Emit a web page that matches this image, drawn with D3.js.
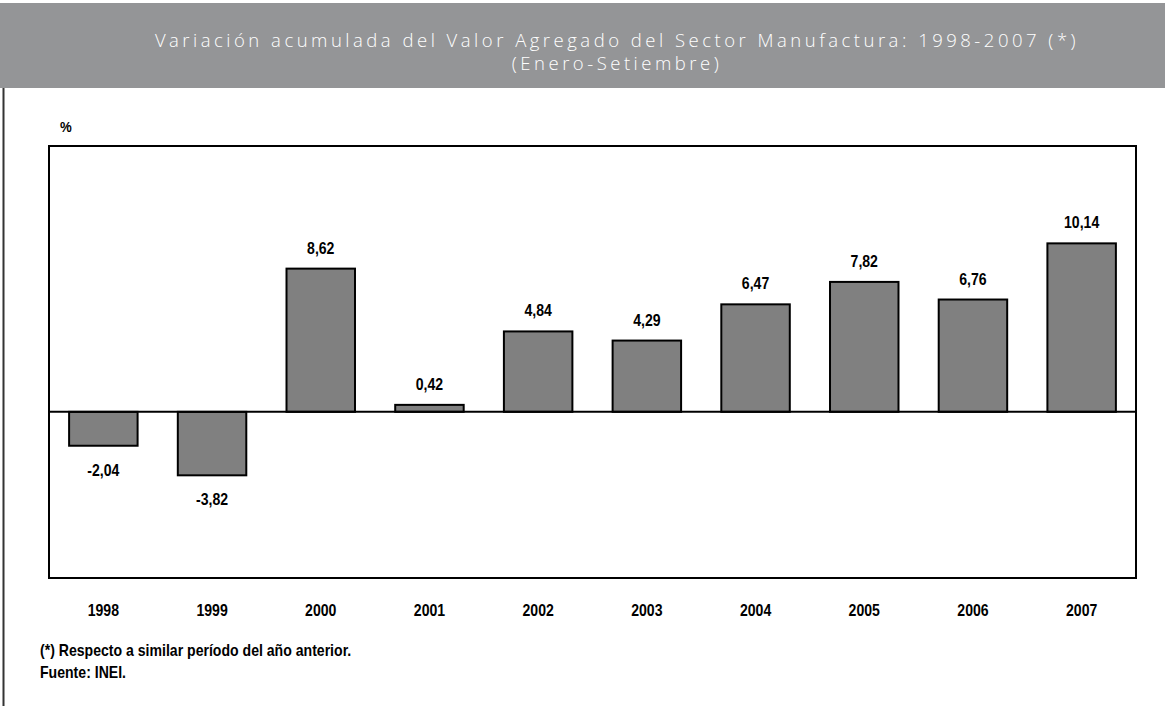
<!DOCTYPE html>
<html>
<head>
<meta charset="utf-8">
<script src="https://cdn.jsdelivr.net/npm/d3@7"></script>
<style>
body { margin: 0; background: #fff; }
svg { display: block; }
.narrow { font-family: "Liberation Sans", Arial, sans-serif; font-weight: bold; font-size: 16px; }
</style>
</head>
<body>
<div id="chart"></div>
<script>
var years = ["1998", "1999", "2000", "2001", "2002", "2003", "2004", "2005", "2006", "2007"];
var values = [-2.04, -3.82, 8.62, 0.42, 4.84, 4.29, 6.47, 7.82, 6.76, 10.14];
var titleLines = ["Variación acumulada del Valor Agregado del Sector Manufactura: 1998-2007 (*)", "(Enero-Setiembre)"];
var notes = ["(*) Respecto a similar período del año anterior.", "Fuente: INEI."];

var width = 1165, height = 711;
var plot = { left: 49, top: 146, right: 1136, bottom: 578 };
var squeeze = 0.88; // narrow look of the original font

function place(x, y) {
    return "translate(" + x + "," + y + ") scale(" + squeeze + ",1)";
}

function fmt(d) {
    return d.toFixed(2).replace(".", ",");
}

var svg = d3.select("#chart").append("svg")
    .attr("width", width)
    .attr("height", height);

// header band
svg.append("rect")
    .attr("x", 0).attr("y", 3)
    .attr("width", width).attr("height", 85)
    .attr("fill", "#949597");

svg.selectAll(".title")
    .data(titleLines)
    .enter().append("text")
    .attr("class", "title")
    .attr("x", 617)
    .attr("y", function(d, i) { return 47 + i * 23; })
    .attr("text-anchor", "middle")
    .attr("fill", "#fff")
    .style("font-family", "'Open Sans', sans-serif")
    .style("font-size", "18.5px")
    .style("font-weight", "300")
    .style("letter-spacing", "3.5px")
    .text(function(d) { return d; });

// left border line
svg.append("line")
    .attr("x1", 3.5).attr("x2", 3.5)
    .attr("y1", 88).attr("y2", 706)
    .attr("stroke", "#333").attr("stroke-width", 2);

var x = d3.scaleBand()
    .domain(years)
    .range([plot.left, plot.right])
    .paddingInner(0.37)
    .paddingOuter(0.185);

var y = d3.scaleLinear()
    .domain([-10, 16])
    .range([plot.bottom, plot.top]);

// bars
svg.selectAll(".bar")
    .data(values)
    .enter().append("rect")
    .attr("class", "bar")
    .attr("x", function(d, i) { return x(years[i]); })
    .attr("y", function(d) { return y(Math.max(0, d)); })
    .attr("width", x.bandwidth())
    .attr("height", function(d) { return Math.abs(y(d) - y(0)); })
    .attr("fill", "#808080")
    .attr("stroke", "#000")
    .attr("stroke-width", 2);

// zero line
svg.append("line")
    .attr("x1", plot.left).attr("x2", plot.right)
    .attr("y1", y(0)).attr("y2", y(0))
    .attr("stroke", "#000").attr("stroke-width", 2);

// plot frame
svg.append("rect")
    .attr("x", plot.left).attr("y", plot.top)
    .attr("width", plot.right - plot.left)
    .attr("height", plot.bottom - plot.top)
    .attr("fill", "none")
    .attr("stroke", "#000")
    .attr("stroke-width", 2);

// value labels
svg.selectAll(".val")
    .data(values)
    .enter().append("text")
    .attr("class", "val narrow")
    .attr("transform", function(d, i) {
        return place(x(years[i]) + x.bandwidth() / 2, d >= 0 ? y(d) - 15 : y(d) + 30);
    })
    .attr("text-anchor", "middle")
    .text(fmt);

// x axis labels
var xAxis = d3.axisBottom(x).tickSize(0).tickPadding(0);
var gx = svg.append("g")
    .attr("transform", "translate(0," + 616 + ")")
    .call(xAxis);
gx.select(".domain").remove();
gx.selectAll("text")
    .attr("class", "narrow")
    .attr("dy", 0)
    .attr("y", 0)
    .attr("transform", "scale(" + squeeze + ",1)")
    .attr("fill", "#000");
gx.attr("font-family", null).attr("font-size", null);

svg.append("text")
    .attr("class", "narrow")
    .attr("transform", place(60, 132))
    .style("font-size", "15px")
    .text("%");

svg.selectAll(".note")
    .data(notes)
    .enter().append("text")
    .attr("class", "note narrow")
    .attr("transform", function(d, i) { return place(40, 656 + i * 22); })
    .text(function(d) { return d; });
</script>
</body>
</html>
